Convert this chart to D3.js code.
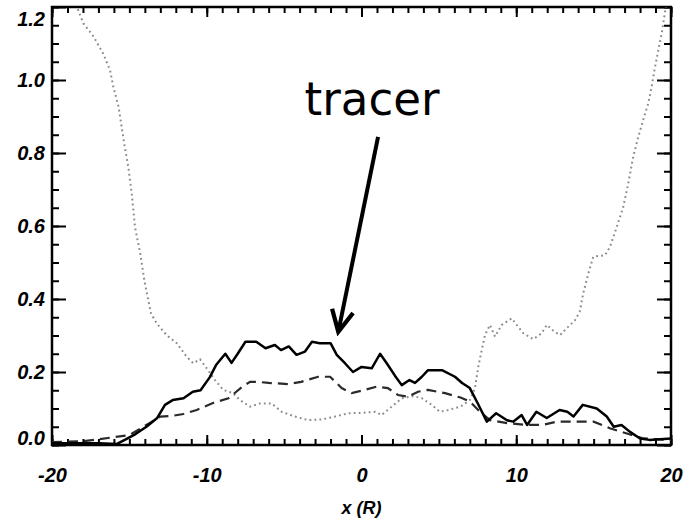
<!DOCTYPE html>
<html>
<head>
<meta charset="utf-8">
<script src="https://cdn.jsdelivr.net/npm/d3@7"></script>
<style>
  html, body { margin: 0; padding: 0; background: #fff; }
  svg { display: block; }
</style>
</head>
<body>
<svg id="chart" width="684" height="523"></svg>
<script>
// ---- data ----
const xTicks = [-20, -10, 0, 10, 20];
const yTicks = [0.0, 0.2, 0.4, 0.6, 0.8, 1.0, 1.2];
const xTickLabels = ["-20", "-10", "0", "10", "20"];
const yTickLabels = ["0.0", "0.2", "0.4", "0.6", "0.8", "1.0", "1.2"];
const xTitle = "x (R)";
const annotationText = "tracer";
const annotationTextPos = [0.68, 0.904];
const arrowFrom = [1.07, 0.844];
const arrowTo = [-1.5, 0.31];

const solidX = [-20, -17, -15.8, -15.3, -14.6, -13.9, -13.2, -12.7, -12.2, -11.5, -10.9, -10.4, -9.8, -9.4, -8.8, -8.4, -8.0, -7.5, -6.8, -6.2, -5.6, -5.2, -4.7, -4.2, -3.65, -3.2, -2.7, -2.0, -1.6, -1.07, -0.55, 0.0, 0.66, 1.2, 1.63, 2.16, 2.6, 3.1, 3.46, 3.9, 4.3, 5.2, 6.04, 6.5, 7.0, 7.5, 8.1, 8.7, 9.4, 9.8, 10.35, 10.7, 11.3, 11.97, 12.8, 13.3, 13.7, 14.3, 15.2, 15.85, 16.3, 16.8, 17.35, 18.0, 18.6, 19.3, 20];
const solidY = [0.005, 0.005, 0.003, 0.014, 0.03, 0.05, 0.074, 0.11, 0.123, 0.128, 0.146, 0.15, 0.186, 0.219, 0.25, 0.225, 0.25, 0.283, 0.283, 0.265, 0.274, 0.26, 0.27, 0.247, 0.256, 0.283, 0.279, 0.279, 0.247, 0.224, 0.2, 0.214, 0.21, 0.25, 0.224, 0.19, 0.164, 0.178, 0.17, 0.187, 0.205, 0.205, 0.187, 0.17, 0.156, 0.115, 0.064, 0.087, 0.068, 0.064, 0.082, 0.055, 0.091, 0.074, 0.096, 0.091, 0.078, 0.11, 0.1, 0.078, 0.05, 0.055, 0.036, 0.018, 0.014, 0.016, 0.018];

const dashX = [-20, -18, -16.25, -15, -13.7, -13.0, -12.2, -11.5, -10.65, -9.6, -8.6, -7.7, -7.2, -6.7, -6.0, -4.75, -3.9, -2.8, -2.03, -1.28, -0.63, 0.22, 0.98, 1.7, 2.36, 3.0, 3.65, 4.3, 5.4, 6.4, 7.0, 7.66, 8.3, 9.4, 10.7, 11.7, 12.6, 13.7, 15.0, 16.05, 17.1, 18.2, 19.9, 20];
const dashY = [0.008, 0.01, 0.02, 0.027, 0.06, 0.078, 0.08, 0.085, 0.096, 0.115, 0.128, 0.16, 0.173, 0.173, 0.17, 0.167, 0.173, 0.187, 0.187, 0.156, 0.142, 0.151, 0.16, 0.156, 0.137, 0.132, 0.146, 0.151, 0.142, 0.13, 0.119, 0.091, 0.068, 0.06, 0.055, 0.055, 0.064, 0.064, 0.064, 0.046, 0.032, 0.018, 0.014, 0.014];

const dotX = [-19, -18.3, -17.97, -17.33, -16.7, -16.25, -16.04, -15.7, -15.5, -15.3, -15.07, -14.85, -14.64, -14.3, -14.0, -13.6, -13.23, -12.6, -11.94, -11.3, -10.87, -10.44, -10.0, -9.47, -8.93, -8.3, -7.85, -7.2, -6.56, -5.8, -5.16, -4.3, -3.44, -2.57, -1.71, -0.85, 0.01, 0.87, 1.3, 1.95, 2.6, 3.35, 3.9, 4.54, 5.07, 5.6, 6.4, 7.0, 7.33, 7.55, 7.77, 7.98, 8.3, 8.63, 9.06, 9.7, 10.46, 11.1, 11.64, 11.97, 12.4, 12.83, 13.26, 13.8, 14.1, 14.33, 14.66, 14.98, 15.74, 16.06, 16.5, 16.92, 17.24, 17.56, 17.89, 18.2, 18.53, 18.75, 18.97, 19.18, 19.4, 19.6, 19.9];
const dotY = [1.3, 1.19, 1.155, 1.12, 1.073, 1.027, 0.982, 0.927, 0.872, 0.817, 0.762, 0.69, 0.598, 0.525, 0.443, 0.36, 0.333, 0.301, 0.279, 0.242, 0.224, 0.235, 0.21, 0.178, 0.151, 0.142, 0.123, 0.105, 0.114, 0.114, 0.091, 0.078, 0.068, 0.07, 0.078, 0.087, 0.088, 0.091, 0.082, 0.105, 0.128, 0.134, 0.128, 0.11, 0.091, 0.096, 0.105, 0.123, 0.155, 0.215, 0.26, 0.301, 0.329, 0.297, 0.329, 0.347, 0.306, 0.29, 0.306, 0.329, 0.313, 0.301, 0.32, 0.342, 0.365, 0.416, 0.47, 0.516, 0.52, 0.543, 0.598, 0.653, 0.717, 0.79, 0.845, 0.89, 0.936, 0.982, 1.036, 1.082, 1.128, 1.183, 1.25];

// ---- layout ----
const L = 52, R = 671, T = 7, B = 445;
const svg = d3.select("#chart");
const x = d3.scaleLinear().domain([-20, 20]).range([L, R]);
const y = d3.scaleLinear().domain([0, 1.2]).range([B, T]);

const xMinor = d3.range(-20, 20.001, 1);
const yMinor = d3.range(0, 1.2001, 0.05);

svg.append("defs").append("clipPath").attr("id", "plotclip")
  .append("rect").attr("x", L).attr("y", T).attr("width", R - L).attr("height", B - T);

const labelFont = "'Liberation Sans', Arial, Helvetica, sans-serif";

function styleAxis(g) {
  g.select(".domain").remove();
  g.selectAll(".tick line").attr("stroke", "#000").attr("stroke-width", 2);
}

// minor ticks
svg.append("g").attr("transform", `translate(0,${B})`)
  .call(d3.axisBottom(x).tickValues(xMinor).tickSize(-6).tickFormat(""))
  .call(styleAxis);
svg.append("g").attr("transform", `translate(0,${T})`)
  .call(d3.axisTop(x).tickValues(xMinor).tickSize(-6).tickFormat(""))
  .call(styleAxis);
svg.append("g").attr("transform", `translate(${L},0)`)
  .call(d3.axisLeft(y).tickValues(yMinor).tickSize(-7).tickFormat(""))
  .call(styleAxis);
svg.append("g").attr("transform", `translate(${R},0)`)
  .call(d3.axisRight(y).tickValues(yMinor).tickSize(-7).tickFormat(""))
  .call(styleAxis);

// major ticks with labels
const xAxisG = svg.append("g").attr("transform", `translate(0,${B})`)
  .call(d3.axisBottom(x).tickValues(xTicks).tickSize(-10).tickPadding(23)
    .tickFormat((d, i) => xTickLabels[i]))
  .call(styleAxis);
svg.append("g").attr("transform", `translate(0,${T})`)
  .call(d3.axisTop(x).tickValues(xTicks).tickSize(-10).tickFormat(""))
  .call(styleAxis);
const yAxisG = svg.append("g").attr("transform", `translate(${L},0)`)
  .call(d3.axisLeft(y).tickValues(yTicks).tickSize(-14).tickPadding(7)
    .tickFormat((d, i) => yTickLabels[i]))
  .call(styleAxis);
svg.append("g").attr("transform", `translate(${R},0)`)
  .call(d3.axisRight(y).tickValues(yTicks).tickSize(-14).tickFormat(""))
  .call(styleAxis);

[xAxisG, yAxisG].forEach(g => g.selectAll("text")
  .attr("fill", "#000")
  .style("font-family", labelFont)
  .style("font-size", "20px")
  .style("font-weight", "bold")
  .style("font-style", "italic"));
// end labels nudged inside the frame as in the reference
yAxisG.selectAll(".tick text").filter(d => d === 1.2).attr("dy", "0.9em");
yAxisG.selectAll(".tick text").filter(d => d === 0).attr("dy", "-0.05em");

// frame
svg.append("rect").attr("x", L).attr("y", T).attr("width", R - L).attr("height", B - T)
  .attr("fill", "none").attr("stroke", "#000").attr("stroke-width", 2.5);

// lines
const line = d3.line().x(d => x(d[0])).y(d => y(d[1]));
const plot = svg.append("g").attr("clip-path", "url(#plotclip)");
plot.append("path").datum(d3.zip(dotX, dotY)).attr("d", line)
  .attr("fill", "none").attr("stroke", "#8a8a8a").attr("stroke-width", 2)
  .attr("stroke-dasharray", "1.8,3.2");
plot.append("path").datum(d3.zip(dashX, dashY)).attr("d", line)
  .attr("fill", "none").attr("stroke", "#2a2a2a").attr("stroke-width", 2.2)
  .attr("stroke-dasharray", "10,6");
plot.append("path").datum(d3.zip(solidX, solidY)).attr("d", line)
  .attr("fill", "none").attr("stroke", "#000").attr("stroke-width", 2.5)
  .attr("stroke-linejoin", "round");

// x title
svg.append("text").attr("x", x(0)).attr("y", 514)
  .attr("text-anchor", "middle")
  .style("font-family", labelFont).style("font-size", "18px")
  .style("font-weight", "bold").style("font-style", "italic")
  .text(xTitle);

// annotation
svg.append("defs").append("marker").attr("id", "arrowhead")
  .attr("markerUnits", "userSpaceOnUse").attr("orient", "auto")
  .attr("markerWidth", 30).attr("markerHeight", 30)
  .attr("viewBox", "-24 -14 28 28").attr("refX", 0).attr("refY", 0)
  .append("path").attr("d", "M-20,-10 L0,0 L-20,10")
  .attr("fill", "none").attr("stroke", "#000").attr("stroke-width", 4)
  .attr("stroke-linejoin", "miter");
svg.append("line")
  .attr("x1", x(arrowFrom[0])).attr("y1", y(arrowFrom[1]))
  .attr("x2", x(arrowTo[0])).attr("y2", y(arrowTo[1]))
  .attr("stroke", "#000").attr("stroke-width", 4)
  .attr("marker-end", "url(#arrowhead)");
svg.append("text")
  .attr("x", x(annotationTextPos[0])).attr("y", y(annotationTextPos[1]))
  .attr("text-anchor", "middle")
  .attr("textLength", 135).attr("lengthAdjust", "spacingAndGlyphs")
  .style("font-family", "'DejaVu Sans', sans-serif").style("font-size", "47px")
  .text(annotationText);
</script>
</body>
</html>
